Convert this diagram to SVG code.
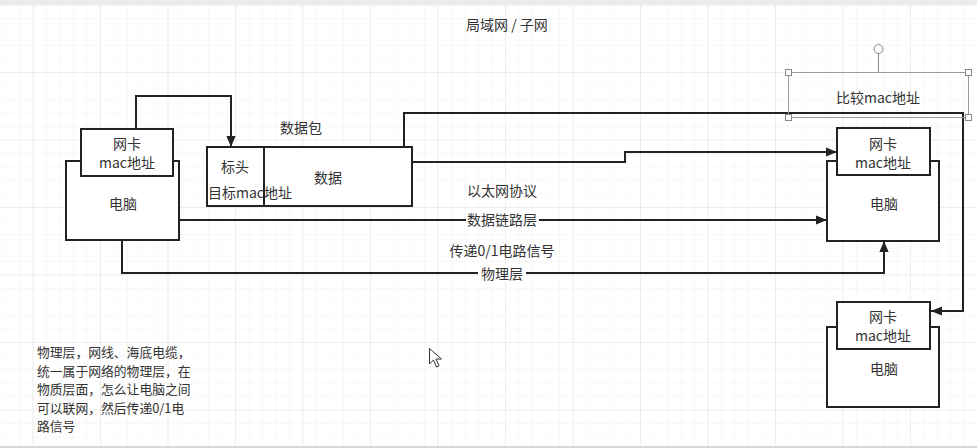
<svg xmlns="http://www.w3.org/2000/svg" width="977" height="448" viewBox="0 0 977 448">
  <defs>
    <pattern id="grid-minor" x="32.5" y="4.5" width="13.5" height="13.5" patternUnits="userSpaceOnUse">
      <path d="M0,0 H13.5 M0,0 V13.5" fill="none" stroke="#f1f1f1" stroke-width="1"/>
    </pattern>
    <pattern id="grid-major" x="32.5" y="4.5" width="67.5" height="67.5" patternUnits="userSpaceOnUse">
      <path d="M0,0 H67.5 M0,0 V67.5" fill="none" stroke="#e2e2e2" stroke-width="1"/>
    </pattern>
    <marker id="arrow" viewBox="0 0 10 10" refX="10" refY="5" markerWidth="11" markerHeight="11" markerUnits="userSpaceOnUse" orient="auto">
      <path d="M0,0.8 L10,5 L0,9.2 z" fill="#222"/>
    </marker>
  </defs>
  <style>
    text { font-family: "Noto Sans CJK SC", "Noto Sans", sans-serif; font-size: 14px; fill: #333; }
    .c { text-anchor: middle; dominant-baseline: central; }
    .note { font-size: 12.8px; }
    .box { fill: #fff; stroke: #222; stroke-width: 2; }
    .edge { fill: none; stroke: #222; stroke-width: 2; marker-end: url(#arrow); }
    .sel { fill: none; stroke: #9a9a9a; stroke-width: 1; }
    .handle { fill: #fff; stroke: #888; stroke-width: 1; }
  </style>

  <!-- canvas with grid -->
  <rect x="0" y="0" width="977" height="448" fill="#fff"/>
  <rect x="0" y="0" width="977" height="448" fill="url(#grid-minor)"/>
  <rect x="0" y="0" width="977" height="448" fill="url(#grid-major)"/>
  <rect x="0" y="0" width="977" height="5" fill="#ececec"/>
  <rect x="0" y="446" width="977" height="2" fill="#d8d8d8"/>

  <!-- connectors -->
  <g id="connectors">
    <path class="edge" d="M136,129 V96 H231 V147"/>
    <path class="edge" d="M404,147 V113 H963 V311 H931"/>
    <path class="edge" d="M412,162 H625 V152 H837"/>
    <path class="edge" d="M179,220 H827"/>
    <path class="edge" d="M122,241 V273 H884 V241"/>
  </g>

  <!-- edge labels -->
  <g id="edge-labels">
    <text class="c" x="502" y="190">以太网协议</text>
    <rect x="466" y="211" width="73" height="18" fill="#fff"/>
    <text class="c" x="502" y="219">数据链路层</text>
    <text class="c" x="502" y="250">传递0/1电路信号</text>
    <rect x="478" y="264" width="48" height="18" fill="#fff"/>
    <text class="c" x="502" y="273">物理层</text>
  </g>

  <g id="title">
    <text class="c" x="507" y="24">局域网 / 子网</text>
  </g>

  <!-- left computer -->
  <g id="computer-left">
    <rect class="box" x="66" y="161" width="113" height="79"/>
    <rect class="box" x="81" y="129" width="92" height="47"/>
    <text class="c" x="127" y="143">网卡</text>
    <text class="c" x="127" y="162">mac地址</text>
    <text class="c" x="123" y="203">电脑</text>
  </g>

  <!-- packet -->
  <g id="packet">
    <text class="c" x="301" y="127">数据包</text>
    <rect class="box" x="207" y="147" width="205" height="59"/>
    <line x1="264" y1="147" x2="264" y2="206" stroke="#222" stroke-width="2"/>
    <text class="c" x="235" y="166">标头</text>
    <text class="c" x="250" y="192">目标mac地址</text>
    <text class="c" x="328" y="177">数据</text>
  </g>

  <!-- right computer -->
  <g id="computer-right">
    <rect class="box" x="827" y="161" width="112" height="80"/>
    <rect class="box" x="837" y="128" width="93" height="47"/>
    <text class="c" x="883" y="143">网卡</text>
    <text class="c" x="883" y="162">mac地址</text>
    <text class="c" x="884" y="203">电脑</text>
  </g>

  <!-- bottom computer -->
  <g id="computer-bottom">
    <rect class="box" x="827" y="327" width="112" height="80"/>
    <rect class="box" x="837" y="302" width="93" height="47"/>
    <text class="c" x="883" y="316">网卡</text>
    <text class="c" x="883" y="335">mac地址</text>
    <text class="c" x="884" y="368">电脑</text>
  </g>

  <!-- compare label, shown selected -->
  <g id="compare-mac">
    <rect class="sel" x="788.5" y="72.5" width="180" height="45"/>
    <line x1="878.5" y1="72.5" x2="878.5" y2="53" stroke="#888" stroke-width="1"/>
    <circle class="handle" cx="878.5" cy="49" r="4.5"/>
    <rect class="handle" x="785.5" y="69.5" width="6" height="6"/>
    <rect class="handle" x="965.5" y="69.5" width="6" height="6"/>
    <rect class="handle" x="785.5" y="114.5" width="6" height="6"/>
    <rect class="handle" x="965.5" y="114.5" width="6" height="6"/>
    <text class="c" x="878" y="97">比较mac地址</text>
  </g>

  <!-- note, one wrapped block -->
  <g id="note">
    <text class="note" x="37" y="357">物理层，网线、海底电缆，<tspan x="37" dy="18.6">统一属于网络的物理层，在</tspan><tspan x="37" dy="18.6">物质层面，怎么让电脑之间</tspan><tspan x="37" dy="18.6">可以联网，然后传递0/1电</tspan><tspan x="37" dy="18.6">路信号</tspan></text>
  </g>

  <!-- mouse pointer -->
  <path d="M429.5,348.5 V364 L433.5,360 L436.5,367 L439,366 L436,359 L441.5,359 z" fill="#fff" stroke="#333" stroke-width="1" stroke-linejoin="round"/>
</svg>
